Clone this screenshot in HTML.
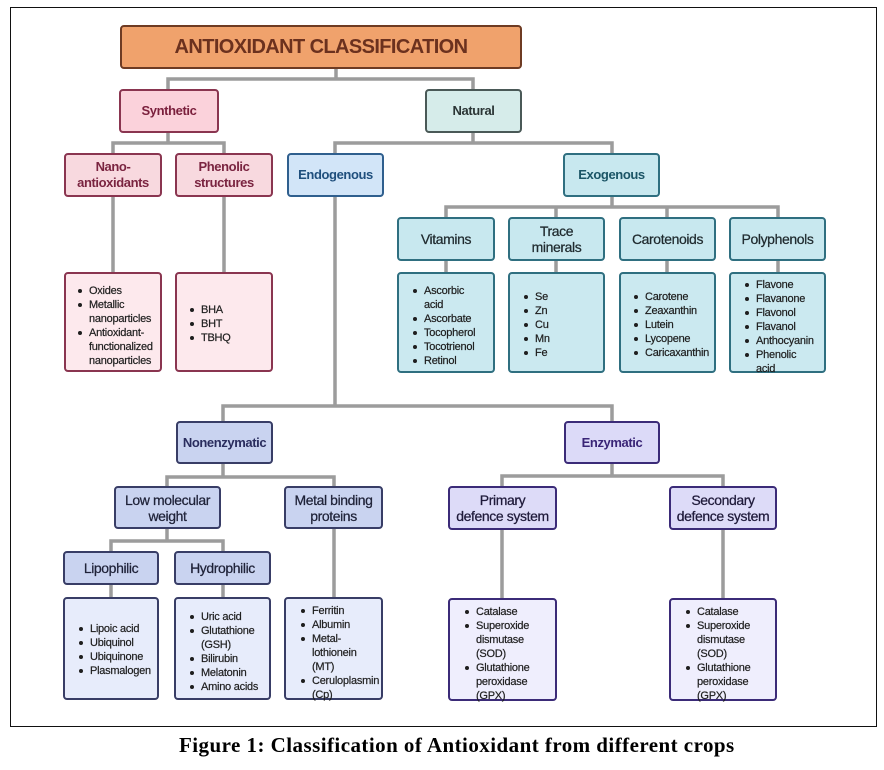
<!DOCTYPE html>
<html>
<head>
<meta charset="utf-8">
<style>
html,body{margin:0;padding:0;background:#fff;}
body{width:884px;height:770px;position:relative;overflow:hidden;font-family:"Liberation Sans",Arial,sans-serif;}
.frame{position:absolute;left:10px;top:7px;width:865px;height:718px;border:1px solid #111;}
svg.conn{position:absolute;left:0;top:0;}
.bx{position:absolute;box-sizing:border-box;border:2px solid #333;border-radius:4px;display:flex;align-items:center;justify-content:center;text-align:center;line-height:16px;}
.bold{font-weight:bold;font-size:13px;letter-spacing:-0.4px;}
.reg{font-size:14px;letter-spacing:-0.4px;-webkit-text-stroke:0.25px currentColor;}
.title{font-weight:bold;font-size:20px;letter-spacing:-0.6px;color:#6b311e;background:#f0a26c;border-color:#6e3b23;}
.syn{background:#fbd2db;border-color:#8a3550;color:#7a1f3c;}
.synl{background:#f8d9df;border-color:#8a3550;color:#7a2440;}
.synlist{background:#fde9ed;border-color:#8a3550;}
.nat{background:#d6ecea;border-color:#4a5957;color:#2b3535;}
.endo{background:#d2e5f8;border-color:#2f5f8e;color:#1f4f7d;}
.exo{background:#c8e8ef;border-color:#2f6f80;color:#1b5566;}
.exl{background:#c8e8ef;border-color:#2f6f80;color:#1f2a2e;}
.exlist{background:#cbe9f0;border-color:#2f6f80;}
.non{background:#c9d3f0;border-color:#383d66;color:#2a2d5e;}
.nonl{background:#c9d3f0;border-color:#383d66;color:#1f2238;}
.nonlist{background:#e7ecfb;border-color:#383d66;}
.enz{background:#dcdaf8;border-color:#3b2b78;color:#3a2577;}
.enzl{background:#dddbf8;border-color:#3b2b78;color:#1f1a3a;}
.enzlist{background:#efeefd;border-color:#3b2b78;}
.list{position:absolute;font-size:11px;line-height:14px;color:#1e1e1e;padding-left:11px;letter-spacing:-0.25px;white-space:nowrap;-webkit-text-stroke:0.2px #1e1e1e;}
.list div{position:relative;}
.list .b::before{content:"";position:absolute;left:-11px;top:5px;width:4px;height:4px;border-radius:50%;background:#1e1e1e;}
.cap{position:absolute;left:179px;top:733px;font-family:"Liberation Serif","Times New Roman",serif;font-weight:bold;font-size:21px;line-height:24px;letter-spacing:0.45px;color:#000;white-space:nowrap;}
</style>
</head>
<body>
<div class="frame"></div>

<svg class="conn" width="884" height="770" viewBox="0 0 884 770">
<g fill="none" stroke="#9c9c9c" stroke-width="3.5" stroke-linejoin="miter">
<path d="M336 69 V79"/>
<path d="M168 89 V79 H473 V89"/>
<path d="M168 132 V143"/>
<path d="M113 153 V143 H224 V153"/>
<path d="M473 133 V143"/>
<path d="M335 153 V143 H612 V153"/>
<path d="M113 197 V272"/>
<path d="M224 197 V272"/>
<path d="M612 197 V207"/>
<path d="M446 217 V207 H778 V217"/>
<path d="M556 207 V217"/>
<path d="M667 207 V217"/>
<path d="M446 261 V272"/>
<path d="M556 261 V272"/>
<path d="M667 261 V272"/>
<path d="M778 261 V272"/>
<path d="M335 197 V406"/>
<path d="M223 421 V406 H612 V421"/>
<path d="M223 464 V477"/>
<path d="M167 486 V477 H334 V486"/>
<path d="M167 529 V541"/>
<path d="M111 551 V541 H223 V551"/>
<path d="M111 585 V597"/>
<path d="M223 585 V597"/>
<path d="M334 529 V597"/>
<path d="M612 464 V476"/>
<path d="M502 486 V476 H723 V486"/>
<path d="M502 530 V598"/>
<path d="M723 530 V598"/>
</g>
</svg>

<!-- Level 0 -->
<div class="bx title" style="left:120px;top:25px;width:402px;height:44px;">ANTIOXIDANT CLASSIFICATION</div>

<!-- Level 1 -->
<div class="bx bold syn" style="left:119px;top:89px;width:100px;height:44px;">Synthetic</div>
<div class="bx bold nat" style="left:425px;top:89px;width:97px;height:44px;">Natural</div>

<!-- Level 2 -->
<div class="bx bold synl" style="left:64px;top:153px;width:98px;height:44px;">Nano-<br>antioxidants</div>
<div class="bx bold synl" style="left:175px;top:153px;width:98px;height:44px;">Phenolic<br>structures</div>
<div class="bx bold endo" style="left:287px;top:153px;width:97px;height:44px;">Endogenous</div>
<div class="bx bold exo" style="left:563px;top:153px;width:97px;height:44px;">Exogenous</div>

<!-- Exogenous children -->
<div class="bx reg exl" style="left:397px;top:217px;width:98px;height:44px;">Vitamins</div>
<div class="bx reg exl" style="left:508px;top:217px;width:97px;height:44px;">Trace<br>minerals</div>
<div class="bx reg exl" style="left:619px;top:217px;width:97px;height:44px;">Carotenoids</div>
<div class="bx reg exl" style="left:729px;top:217px;width:97px;height:44px;">Polyphenols</div>

<!-- Synthetic lists -->
<div class="bx synlist" style="left:64px;top:272px;width:98px;height:100px;"></div>
<div class="bx synlist" style="left:175px;top:272px;width:98px;height:100px;"></div>

<!-- Exogenous lists -->
<div class="bx exlist" style="left:397px;top:272px;width:98px;height:101px;"></div>
<div class="bx exlist" style="left:508px;top:272px;width:97px;height:101px;"></div>
<div class="bx exlist" style="left:619px;top:272px;width:97px;height:101px;"></div>
<div class="bx exlist" style="left:729px;top:272px;width:97px;height:101px;"></div>

<!-- Endogenous subtree -->
<div class="bx bold non" style="left:176px;top:421px;width:97px;height:43px;">Nonenzymatic</div>
<div class="bx bold enz" style="left:564px;top:421px;width:96px;height:43px;">Enzymatic</div>

<div class="bx reg nonl" style="left:114px;top:486px;width:107px;height:43px;">Low molecular<br>weight</div>
<div class="bx reg nonl" style="left:284px;top:486px;width:99px;height:43px;">Metal binding<br>proteins</div>
<div class="bx reg enzl" style="left:448px;top:486px;width:109px;height:44px;">Primary<br>defence system</div>
<div class="bx reg enzl" style="left:669px;top:486px;width:108px;height:44px;">Secondary<br>defence system</div>

<div class="bx reg nonl" style="left:63px;top:551px;width:96px;height:34px;">Lipophilic</div>
<div class="bx reg nonl" style="left:174px;top:551px;width:97px;height:34px;">Hydrophilic</div>

<div class="bx nonlist" style="left:63px;top:597px;width:96px;height:103px;"></div>
<div class="bx nonlist" style="left:174px;top:597px;width:97px;height:103px;"></div>
<div class="bx nonlist" style="left:284px;top:597px;width:99px;height:103px;"></div>
<div class="bx enzlist" style="left:448px;top:598px;width:109px;height:103px;"></div>
<div class="bx enzlist" style="left:669px;top:598px;width:108px;height:103px;"></div>

<!-- List texts -->
<div class="list" style="left:78px;top:284px;">
<div class="b">Oxides</div><div class="b">Metallic</div><div>nanoparticles</div><div class="b">Antioxidant-</div><div>functionalized</div><div>nanoparticles</div>
</div>
<div class="list" style="left:190px;top:303px;">
<div class="b">BHA</div><div class="b">BHT</div><div class="b">TBHQ</div>
</div>

<div class="list" style="left:413px;top:284px;">
<div class="b">Ascorbic</div><div>acid</div><div class="b">Ascorbate</div><div class="b">Tocopherol</div><div class="b">Tocotrienol</div><div class="b">Retinol</div>
</div>
<div class="list" style="left:524px;top:290px;">
<div class="b">Se</div><div class="b">Zn</div><div class="b">Cu</div><div class="b">Mn</div><div class="b">Fe</div>
</div>
<div class="list" style="left:634px;top:290px;">
<div class="b">Carotene</div><div class="b">Zeaxanthin</div><div class="b">Lutein</div><div class="b">Lycopene</div><div class="b">Caricaxanthin</div>
</div>
<div class="list" style="left:745px;top:278px;">
<div class="b">Flavone</div><div class="b">Flavanone</div><div class="b">Flavonol</div><div class="b">Flavanol</div><div class="b">Anthocyanin</div><div class="b">Phenolic</div><div>acid</div>
</div>

<div class="list" style="left:79px;top:622px;">
<div class="b">Lipoic acid</div><div class="b">Ubiquinol</div><div class="b">Ubiquinone</div><div class="b">Plasmalogen</div>
</div>
<div class="list" style="left:190px;top:610px;">
<div class="b">Uric acid</div><div class="b">Glutathione</div><div>(GSH)</div><div class="b">Bilirubin</div><div class="b">Melatonin</div><div class="b">Amino acids</div>
</div>
<div class="list" style="left:301px;top:604px;">
<div class="b">Ferritin</div><div class="b">Albumin</div><div class="b">Metal-</div><div>lothionein</div><div>(MT)</div><div class="b">Ceruloplasmin</div><div>(Cp)</div>
</div>
<div class="list" style="left:465px;top:605px;">
<div class="b">Catalase</div><div class="b">Superoxide</div><div>dismutase</div><div>(SOD)</div><div class="b">Glutathione</div><div>peroxidase</div><div>(GPX)</div>
</div>
<div class="list" style="left:686px;top:605px;">
<div class="b">Catalase</div><div class="b">Superoxide</div><div>dismutase</div><div>(SOD)</div><div class="b">Glutathione</div><div>peroxidase</div><div>(GPX)</div>
</div>

<div class="cap">Figure 1: Classification of Antioxidant from different crops</div>
</body>
</html>
